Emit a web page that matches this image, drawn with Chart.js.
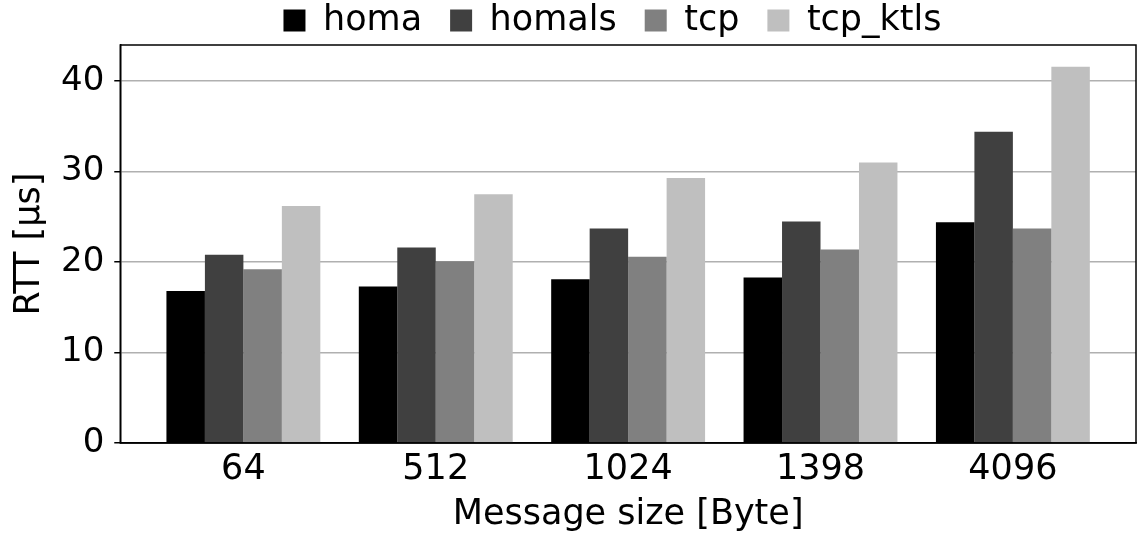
<!DOCTYPE html>
<html>
<head>
<meta charset="utf-8">
<script src="https://cdn.jsdelivr.net/npm/chart.js@4"></script>
<style>
  html, body { margin: 0; padding: 0; background: #fff; }
  #wrap { width: 1143px; height: 536px; }
</style>
</head>
<body>
<div id="wrap"><canvas id="rtt"></canvas></div>
<script>
// data
const sizes = ['64', '512', '1024', '1398', '4096'];
const homa = [16.8, 17.3, 18.1, 18.3, 24.4];
const homals = [20.8, 21.6, 23.7, 24.5, 34.4];
const tcp = [19.2, 20.1, 20.6, 21.4, 23.7];
const tcpKtls = [26.2, 27.5, 29.3, 31.0, 41.6];
const yTicks = [0, 10, 20, 30, 40];

const seriesNames = ['homa', 'homals', 'tcp', 'tcp_ktls'];
const seriesColors = ['#000000', '#404040', '#808080', '#bfbfbf'];
const seriesValues = [homa, homals, tcp, tcpKtls];

const FONT = 'DejaVu Sans';

// full box around the plot (matplotlib style)
const frame = {
  id: 'frame',
  afterDraw(chart) {
    const { ctx, chartArea: a } = chart;
    ctx.save();
    ctx.strokeStyle = '#000';
    ctx.lineWidth = 1.5;
    ctx.strokeRect(a.left, a.top, a.right - a.left, a.bottom - a.top);
    ctx.restore();
  }
};

// legend is centred over the axes, not the whole canvas
const legendShift = {
  id: 'legendShift',
  afterLayout(chart) {
    chart.legend.left += 80;
  }
};

const ctx = document.getElementById('rtt').getContext('2d');
new Chart(ctx, {
  type: 'bar',
  data: {
    datasets: seriesNames.map((name, i) => ({
      label: name,
      data: seriesValues[i].map((v, j) => ({ x: j, y: v })),
      backgroundColor: seriesColors[i],
      borderWidth: 0,
      categoryPercentage: 0.8,
      barPercentage: 1.0
    }))
  },
  options: {
    responsive: true,
    maintainAspectRatio: false,
    animation: false,
    // legend sits high up, so pull the top in
    layout: { padding: { left: 9, right: 7, top: -25, bottom: 0 } },
    plugins: {
      legend: {
        position: 'top',
        maxHeight: 70,
        labels: {
          font: { family: FONT, size: 35 },
          color: '#000',
          boxWidth: 22,
          boxHeight: 22,
          padding: 28
        }
      },
      tooltip: { enabled: false }
    },
    scales: {
      x: {
        type: 'linear',
        min: -0.64,
        max: 4.64,
        offset: false,
        grid: { display: false, drawTicks: true, tickLength: 6, tickColor: '#000' },
        border: { color: '#000', width: 1.5 },
        afterBuildTicks(axis) {
          axis.ticks = sizes.map((s, i) => ({ value: i }));
        },
        ticks: {
          font: { family: FONT, size: 35 },
          color: '#000',
          maxRotation: 0,
          padding: 0,
          callback: (v) => sizes[v]
        },
        title: {
          display: true,
          text: 'Message size [Byte]',
          font: { family: FONT, size: 35 },
          color: '#000',
          padding: { top: 3, bottom: 0 }
        }
      },
      y: {
        min: 0,
        max: 44,
        afterBuildTicks(axis) {
          axis.ticks = yTicks.map((v) => ({ value: v }));
        },
        grid: {
          color: '#b0b0b0',
          lineWidth: 1.5,
          tickLength: 6,
          tickColor: '#000'
        },
        border: { color: '#000', width: 1.5 },
        ticks: {
          font: { family: FONT, size: 34 },
          color: '#000',
          padding: 10
        },
        title: {
          display: true,
          text: 'RTT [µs]',
          font: { family: FONT, size: 35 },
          color: '#000',
          padding: { top: 0, bottom: 0 }
        }
      }
    }
  },
  plugins: [frame, legendShift]
});
</script>
</body>
</html>
